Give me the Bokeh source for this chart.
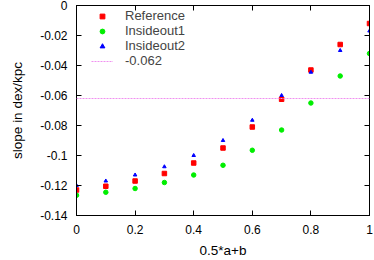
from bokeh.plotting import figure
from bokeh.models import LinearAxis, Span, Legend, LegendItem, FixedTicker, Range1d
from bokeh.embed import file_html
from bokeh.resources import INLINE

x_vals = [0.0, 0.1, 0.2, 0.3, 0.4, 0.5, 0.6, 0.7, 0.8, 0.9, 1.0]
reference = [-0.123, -0.1205, -0.117, -0.112, -0.105, -0.095, -0.081, -0.0625, -0.043, -0.026, -0.012]
insideout1 = [-0.1265, -0.1245, -0.122, -0.118, -0.113, -0.1065, -0.0965, -0.083, -0.065, -0.047, -0.032]
insideout2 = [-0.120, -0.117, -0.113, -0.1075, -0.100, -0.090, -0.0765, -0.060, -0.0445, -0.030, -0.017]
hline_value = -0.062
x_ticks = [0, 0.2, 0.4, 0.6, 0.8, 1.0]
y_ticks = [-0.14, -0.12, -0.10, -0.08, -0.06, -0.04, -0.02, 0.0]

FONT = "Liberation Sans"

p = figure(width=374, height=260, output_backend="svg", toolbar_location=None,
           x_range=Range1d(0, 1), y_range=Range1d(-0.14, 0))
p.min_border_left = 76
p.min_border_right = 5
p.min_border_top = 5
p.min_border_bottom = 0
p.xgrid.visible = False
p.ygrid.visible = False
p.outline_line_color = "black"
p.outline_line_width = 1

def style_axis(ax, labels=True):
    ax.axis_line_color = "black"
    ax.major_tick_in = 5
    ax.major_tick_out = 0
    ax.minor_tick_line_color = None
    ax.major_label_text_font = FONT
    ax.major_label_text_font_size = "12px"
    ax.major_label_text_color = "black"
    ax.axis_label_text_font = FONT
    ax.axis_label_text_font_size = "13.5px"
    ax.axis_label_text_font_style = "normal"
    ax.axis_label_text_color = "black"
    if not labels:
        ax.major_label_text_font_size = "0px"
        ax.major_label_standoff = 0
        ax.axis_label_standoff = 0

p.xaxis.ticker = FixedTicker(ticks=x_ticks)
p.yaxis.ticker = FixedTicker(ticks=y_ticks)
p.xaxis.major_label_overrides = {0: "0", 0.2: "0.2", 0.4: "0.4", 0.6: "0.6", 0.8: "0.8", 1.0: "1"}
p.yaxis.major_label_overrides = {0: "0", -0.02: "-0.02", -0.04: "-0.04", -0.06: "-0.06",
                                 -0.08: "-0.08", -0.1: "-0.1", -0.12: "-0.12", -0.14: "-0.14"}
p.xaxis.axis_label = "0.5*a+b"
p.yaxis.axis_label = "slope in dex/kpc"
style_axis(p.xaxis[0])
style_axis(p.yaxis[0])
p.xaxis.major_label_standoff = 9
p.yaxis.major_label_standoff = 9
p.xaxis.axis_label_standoff = 6
p.yaxis.axis_label_standoff = 12

top = LinearAxis(ticker=FixedTicker(ticks=x_ticks))
style_axis(top, labels=False)
top.major_label_text_alpha = 0
p.add_layout(top, "above")
right = LinearAxis(ticker=FixedTicker(ticks=y_ticks))
style_axis(right, labels=False)
right.major_label_text_alpha = 0
p.add_layout(right, "right")

span = Span(location=hline_value, dimension="width", line_color="#f090f0", line_dash="2 1", line_width=1)
p.add_layout(span)
line_r = p.line([0, 0], [-1, -1], line_color="#f090f0", line_dash="2 1", line_width=1)

r_ref = p.scatter(x_vals, reference, marker="square", size=4.5, fill_color="red", line_color="red")
r_io1 = p.scatter(x_vals, insideout1, marker="circle", size=4.5, fill_color="#00ee00", line_color="#00ee00")
r_io2 = p.scatter(x_vals, insideout2, marker="triangle", size=3.5, fill_color="blue", line_color="blue")

legend = Legend(items=[
    LegendItem(label="Reference", renderers=[r_ref]),
    LegendItem(label="Insideout1", renderers=[r_io1]),
    LegendItem(label="Insideout2", renderers=[r_io2]),
    LegendItem(label="-0.062", renderers=[line_r]),
], location=(15, 147))
legend.background_fill_alpha = 0
legend.border_line_color = None
legend.label_text_font = FONT
legend.label_text_font_size = "13px"
legend.label_height = 12
legend.glyph_height = 12
legend.glyph_width = 22
legend.label_standoff = 12
legend.spacing = 0
legend.padding = 0
legend.margin = 0
legend.label_text_line_height = 1.0
p.add_layout(legend)

open("out.html", "w").write(file_html(p, INLINE))
